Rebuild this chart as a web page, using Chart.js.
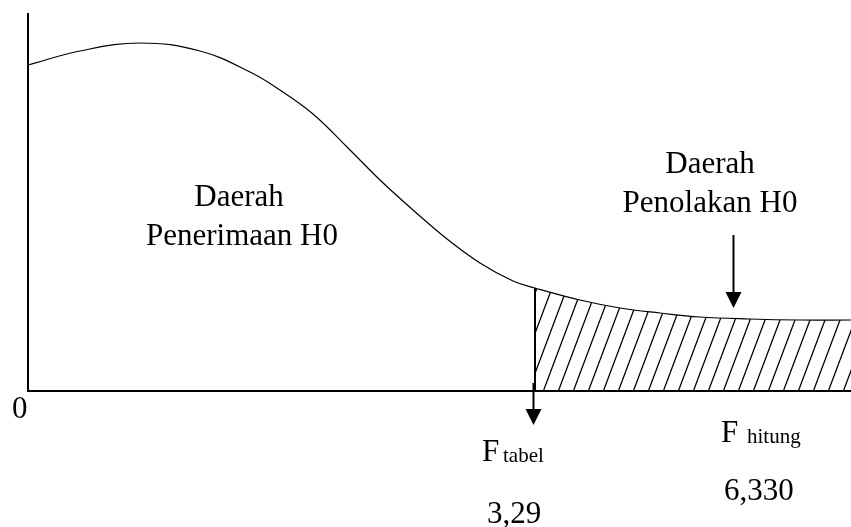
<!DOCTYPE html>
<html>
<head>
<meta charset="utf-8">
<script src="https://cdn.jsdelivr.net/npm/chart.js@4/dist/chart.umd.min.js"></script>
<style>
  html, body { margin: 0; padding: 0; background: #ffffff; }
  canvas { display: block; }
</style>
</head>
<body>
<canvas id="c" width="851" height="527"></canvas>
<script>
// ---- data (diagram units: x along F axis, y = density height) ----
const curveX = [0, 52, 112, 172, 222, 252, 285, 319, 352, 385, 419, 452, 485, 507, 552, 592, 632, 672, 722, 772, 823];
const curveY = [326, 340, 348, 340, 319, 301, 277, 244, 211, 181, 152, 128, 110, 103, 91, 83, 78, 74, 72, 71, 71];
const fTabelX = 507;          // critical value position (F tabel = 3,29)
const fTabelValue = "3,29";
const fHitungValue = "6,330";
const arrowRejectX = 705;     // arrow pointing into rejection region
const arrowRejectFrom = 156;
const arrowRejectTo = 83;
const arrowTabelX = 505;
const arrowTabelFrom = 8;
const arrowTabelTo = -34;
const axisXMax = 823;
const axisYMax = 378;

const curvePts = curveX.map((x, i) => ({ x: x, y: curveY[i] }));
const rejectPts = curvePts.filter(p => p.x >= fTabelX);

// hatch pattern
function makeHatch() {
  const w = 15, h = 40;
  const t = document.createElement('canvas');
  t.width = w; t.height = h;
  const c = t.getContext('2d');
  c.strokeStyle = '#000';
  c.lineWidth = 1.3;
  for (let k = -1; k <= 1; k++) {
    c.beginPath();
    c.moveTo(k * w, h);
    c.lineTo(k * w + w, 0);
    c.stroke();
  }
  return document.getElementById('c').getContext('2d').createPattern(t, 'repeat');
}

const SERIF = '"Liberation Serif", "Times New Roman", serif';

const overlay = {
  id: 'overlay',
  afterDraw(chart) {
    const ctx = chart.ctx;
    const xs = chart.scales.x, ys = chart.scales.y;
    const px = v => xs.getPixelForValue(v);
    const py = v => ys.getPixelForValue(v);
    ctx.save();
    // axes
    ctx.strokeStyle = '#000';
    ctx.lineWidth = 2;
    ctx.beginPath();
    ctx.moveTo(px(0), py(axisYMax));
    ctx.lineTo(px(0), py(0));
    ctx.lineTo(px(axisXMax), py(0));
    ctx.stroke();

    // arrows
    function arrow(x, y1, y2) {
      const X = Math.round(px(x)) + 0.5;
      const Y1 = py(y1), Y2 = py(y2);
      ctx.lineWidth = 2;
      ctx.beginPath();
      ctx.moveTo(X, Y1);
      ctx.lineTo(X, Y2 - 14);
      ctx.stroke();
      ctx.beginPath();
      ctx.moveTo(X - 8, Y2 - 16);
      ctx.lineTo(X + 8, Y2 - 16);
      ctx.lineTo(X, Y2);
      ctx.closePath();
      ctx.fillStyle = '#000';
      ctx.fill();
    }
    arrow(arrowRejectX, arrowRejectFrom, arrowRejectTo);
    arrow(arrowTabelX, arrowTabelFrom, arrowTabelTo);

    // texts
    ctx.fillStyle = '#000';
    ctx.textBaseline = 'alphabetic';
    ctx.font = '31px ' + SERIF;
    ctx.textAlign = 'center';
    ctx.fillText('Daerah', 239, 206);
    ctx.fillText('Penerimaan H0', 242, 245);
    ctx.fillText('Daerah', 710, 173);
    ctx.fillText('Penolakan H0', 710, 212);
    ctx.textAlign = 'left';
    ctx.fillText('0', 12, 418);
    ctx.fillText('F', 482, 461);
    ctx.fillText(fTabelValue, 487, 523);
    ctx.fillText('F', 721, 442);
    ctx.fillText(fHitungValue, 724, 500);
    ctx.font = '21px ' + SERIF;
    ctx.fillText('tabel', 503, 462);
    ctx.fillText('hitung', 747, 443);
    ctx.restore();
  }
};

new Chart(document.getElementById('c'), {
  type: 'line',
  data: {
    datasets: [
      {
        data: rejectPts,
        borderWidth: 0,
        borderColor: 'rgba(0,0,0,0)',
        backgroundColor: makeHatch(),
        fill: 'origin',
        pointRadius: 0,
        tension: 0.4
      },
      {
        data: curvePts,
        borderColor: '#000',
        borderWidth: 1.2,
        fill: false,
        pointRadius: 0,
        tension: 0.4
      },
      {
        data: [{ x: fTabelX, y: 0 }, { x: fTabelX, y: curveY[curveX.indexOf(fTabelX)] }],
        borderColor: '#000',
        borderWidth: 2,
        fill: false,
        pointRadius: 0,
        tension: 0
      }
    ]
  },
  options: {
    responsive: false,
    animation: false,
    devicePixelRatio: 1,
    layout: { padding: { left: 28, right: 0, top: 11, bottom: 136 } },
    plugins: { legend: { display: false }, tooltip: { enabled: false }, title: { display: false } },
    scales: {
      x: { type: 'linear', min: 0, max: axisXMax, display: false },
      y: { type: 'linear', min: 0, max: 380, display: false }
    },
    elements: { line: { borderCapStyle: 'butt' } }
  },
  plugins: [overlay]
});
</script>
</body>
</html>
